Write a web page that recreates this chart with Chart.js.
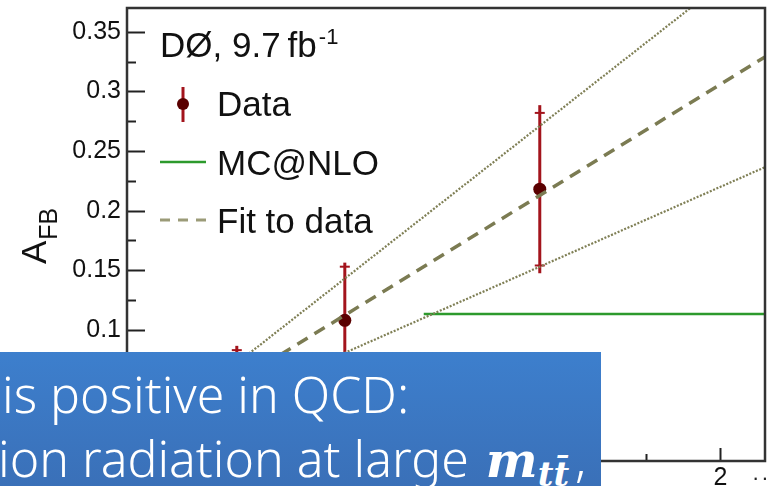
<!DOCTYPE html>
<html>
<head>
<meta charset="utf-8">
<script src="https://cdn.jsdelivr.net/npm/chart.js@4.4.1/dist/chart.umd.min.js"></script>
<style>
  html, body { margin: 0; padding: 0; background: #fff; }
  .container { position: relative; width: 779px; height: 486px; overflow: hidden; }
  #afbChart { position: absolute; left: 0; top: 0; }
  .dots { position: absolute; left: 752px; top: 465px; font: 22px "Liberation Sans", Arial, sans-serif; color: #222; letter-spacing: 2px; }
  .slide-box {
    position: absolute; left: 0; top: 352px; width: 601px; height: 134px;
    background: linear-gradient(#3d7fcd, #3a70b8);
    color: #fff; white-space: nowrap;
    font-family: "Noto Sans", "Open Sans", sans-serif; font-weight: 300; font-size: 50px; line-height: 50px;
  }
  .slide-box div { position: absolute; }
  .slide-box .l1 { left: 2px; top: 17px; }
  .slide-box .l2 { left: -2px; top: 81px; }
  .slide-box .math { font-family: "DejaVu Serif", "Liberation Serif", serif; font-style: italic; font-weight: bold; font-size: 49px; margin-left: 4px; }
  .slide-box .math sub { font-size: 34px; vertical-align: -9px; margin-right: 6px; }
</style>
</head>
<body>
<div class="container">
  <canvas id="afbChart" width="779" height="486"></canvas>
  <span class="dots">··</span>
  <div class="slide-box">
    <div class="l1">is positive in QCD:</div>
    <div class="l2">ion radiation at large <span class="math">m<sub>tt&#772;</sub></span>,</div>
  </div>
</div>
<script>
// A_FB vs |dy|
const dataX = [0.37, 0.734, 1.391];
const dataY = [0.043, 0.108, 0.218];
const statErr = [0.040, 0.045, 0.064];
const totErr = [0.0436, 0.0484, 0.0705];

const mcX = [1.0, 2.15];
const mcY = [0.1134, 0.1134];

const fitX = [0, 2.15];
const fitY = [0, 0.329];
const fitUpY = [0, 0.419];
const fitLoY = [0, 0.2365];

const xTickValues = [0, 0.5, 1, 1.5, 2];
const xTickLabels = ['0', '0.5', '1', '1.5', '2'];
const yTickValues = [0, 0.05, 0.1, 0.15, 0.2, 0.25, 0.3, 0.35];
const yTickLabels = ['0', '0.05', '0.1', '0.15', '0.2', '0.25', '0.3', '0.35'];

const lumiText = 'DØ, 9.7\u2009fb';
const lumiSup = '-1';
const legendLabels = ['Data', 'MC@NLO', 'Fit to data'];
const yTitle = 'A';
const yTitleSub = 'FB';

const FONT = '"Liberation Sans", Arial, Helvetica, sans-serif';
const RED = '#a3141c';
const MARK = '#5a0000';
const GREEN = '#2c9a2c';
const OLIVE = '#7b7b52';

function pts(xs, ys) {
  return xs.map((x, i) => ({ x: x, y: ys[i] }));
}

// ROOT-like frame, inward ticks, error bars, legend and y title
const rootStyle = {
  id: 'rootStyle',
  beforeDatasetsDraw(chart) {
    const c = chart.ctx, xs = chart.scales.x, ys = chart.scales.y;
    c.save();
    c.strokeStyle = RED;
    dataX.forEach((x, i) => {
      const px = xs.getPixelForValue(x);
      const yT = ys.getPixelForValue(dataY[i] + totErr[i]);
      const yB = ys.getPixelForValue(dataY[i] - totErr[i]);
      c.lineWidth = 3;
      c.beginPath(); c.moveTo(px, yT); c.lineTo(px, yB); c.stroke();
      c.lineWidth = 2;
      [dataY[i] + statErr[i], dataY[i] - statErr[i]].forEach(v => {
        const py = ys.getPixelForValue(v);
        c.beginPath(); c.moveTo(px - 5, py); c.lineTo(px + 5, py); c.stroke();
      });
    });
    c.restore();
  },
  afterDraw(chart) {
    const c = chart.ctx, a = chart.chartArea, xs = chart.scales.x, ys = chart.scales.y;
    c.save();
    // ticks
    c.strokeStyle = '#222';
    c.lineWidth = 2;
    for (let v = 0; v <= 0.37 + 1e-9; v += 0.025) {
      const py = Math.round(ys.getPixelForValue(v)) + 0.5;
      const major = Math.abs(v / 0.05 - Math.round(v / 0.05)) < 1e-6;
      c.beginPath(); c.moveTo(a.left, py); c.lineTo(a.left + (major ? 18 : 9), py); c.stroke();
    }
    for (let v = 0; v <= 2.15 + 1e-9; v += 0.25) {
      const px = Math.round(xs.getPixelForValue(v)) + 0.5;
      const major = Math.abs(v / 0.5 - Math.round(v / 0.5)) < 1e-6;
      c.beginPath(); c.moveTo(px, a.bottom); c.lineTo(px, a.bottom - (major ? 13 : 7)); c.stroke();
    }
    // frame
    c.strokeStyle = '#333';
    c.lineWidth = 2.5;
    c.strokeRect(a.left, a.top, a.right - a.left, a.bottom - a.top);

    // y axis title
    c.fillStyle = '#111';
    c.save();
    c.translate(46, 264);
    c.rotate(-Math.PI / 2);
    c.font = '35px ' + FONT;
    c.textBaseline = 'alphabetic';
    c.fillText(yTitle, 0, 0);
    const wA = c.measureText(yTitle).width;
    c.font = '25px ' + FONT;
    c.fillText(yTitleSub, wA + 1, 11);
    c.restore();

    // legend
    c.fillStyle = '#111';
    c.textBaseline = 'alphabetic';
    c.font = '35px ' + FONT;
    c.fillText(lumiText, 160, 57);
    const wL = c.measureText(lumiText).width;
    c.font = '22px ' + FONT;
    c.fillText(lumiSup, 160 + wL + 2, 44);

    c.font = '35px ' + FONT;
    c.fillText(legendLabels[0], 217, 116);
    c.fillText(legendLabels[1], 217, 175);
    c.fillText(legendLabels[2], 217, 233);

    c.strokeStyle = RED;
    c.lineWidth = 3;
    c.beginPath(); c.moveTo(183, 87); c.lineTo(183, 122); c.stroke();
    c.fillStyle = MARK;
    c.beginPath(); c.arc(183, 104, 6, 0, Math.PI * 2); c.fill();

    c.strokeStyle = GREEN;
    c.lineWidth = 2.5;
    c.beginPath(); c.moveTo(160, 162); c.lineTo(206, 162); c.stroke();

    c.strokeStyle = '#9b9b78';
    c.lineWidth = 3;
    c.setLineDash([10, 8]);
    c.beginPath(); c.moveTo(160, 220); c.lineTo(206, 220); c.stroke();
    c.setLineDash([]);
    c.restore();
  }
};

const ctx = document.getElementById('afbChart').getContext('2d');
new Chart(ctx, {
  type: 'scatter',
  data: {
    datasets: [
      { label: 'Fit +1σ', data: pts(fitX, fitUpY), showLine: true, borderColor: '#7f7f55', borderWidth: 2.2, borderDash: [2, 1.6], pointRadius: 0 },
      { label: 'Fit -1σ', data: pts(fitX, fitLoY), showLine: true, borderColor: '#7f7f55', borderWidth: 2.2, borderDash: [2, 1.6], pointRadius: 0 },
      { label: legendLabels[2], data: pts(fitX, fitY), showLine: true, borderColor: OLIVE, borderWidth: 3.5, borderDash: [12, 8], pointRadius: 0 },
      { label: legendLabels[1], data: pts(mcX, mcY), showLine: true, borderColor: GREEN, borderWidth: 2.5, pointRadius: 0 },
      { label: legendLabels[0], data: pts(dataX, dataY), showLine: false, pointRadius: 6.5, pointBackgroundColor: MARK, pointBorderColor: MARK, pointBorderWidth: 0 }
    ]
  },
  options: {
    responsive: false,
    animation: false,
    devicePixelRatio: 1,
    layout: { padding: { top: 8, right: 14, left: 0, bottom: 0 } },
    plugins: { legend: { display: false }, tooltip: { enabled: false } },
    scales: {
      x: {
        type: 'linear', min: 0, max: 2.15,
        grid: { display: false }, border: { display: false },
        ticks: {
          autoSkip: false, maxRotation: 0, padding: -6, color: '#111',
          font: { family: FONT, size: 25 },
          callback: (v, i) => xTickLabels[i]
        },
        afterBuildTicks: s => { s.ticks = xTickValues.map(v => ({ value: v })); },
        afterFit: s => { s.height = 25; s.paddingLeft = 0; s.paddingRight = 0; }
      },
      y: {
        type: 'linear', min: -0.01, max: 0.37,
        grid: { display: false }, border: { display: false },
        ticks: {
          autoSkip: false, padding: -2, color: '#111',
          font: { family: FONT, size: 25 },
          callback: (v, i) => yTickLabels[i]
        },
        afterBuildTicks: s => { s.ticks = yTickValues.map(v => ({ value: v })); },
        afterFit: s => { s.width = 127; s.paddingTop = 0; s.paddingBottom = 0; }
      }
    }
  },
  plugins: [rootStyle]
});
</script>
</body>
</html>
